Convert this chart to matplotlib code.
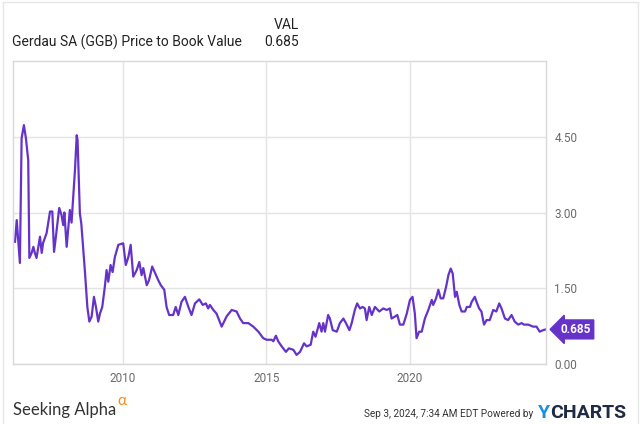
import matplotlib.pyplot as plt
import matplotlib.transforms as mtransforms
from matplotlib.lines import Line2D

# Gerdau SA (GGB) price to book value
years = [2006.25, 2006.31, 2006.42, 2006.48, 2006.56, 2006.63, 2006.71, 2006.75,
         2006.83, 2006.89, 2006.94, 2007.00, 2007.12, 2007.18, 2007.23, 2007.35,
         2007.47, 2007.55, 2007.61, 2007.68, 2007.79, 2007.87, 2007.93, 2007.97,
         2008.05, 2008.16, 2008.22, 2008.28, 2008.34, 2008.40, 2008.43, 2008.49,
         2008.51, 2008.56, 2008.63, 2008.69, 2008.77, 2008.84, 2008.92, 2009.00,
         2009.07, 2009.15, 2009.21, 2009.29, 2009.38, 2009.44, 2009.50, 2009.58,
         2009.65, 2009.73, 2009.85, 2010.02, 2010.11, 2010.20, 2010.28, 2010.37,
         2010.49, 2010.58, 2010.66, 2010.72, 2010.84, 2010.92, 2011.03, 2011.13,
         2011.24, 2011.33, 2011.45, 2011.53, 2011.62, 2011.76, 2011.85, 2011.94,
         2012.05, 2012.17, 2012.29, 2012.40, 2012.52, 2012.67, 2012.79, 2012.90,
         2012.98, 2013.04, 2013.16, 2013.27, 2013.45, 2013.62, 2013.80, 2013.97,
         2014.09, 2014.20, 2014.38, 2014.55, 2014.73, 2014.90, 2015.02, 2015.19,
         2015.25, 2015.34, 2015.42, 2015.54, 2015.69, 2015.79, 2015.95, 2016.06,
         2016.18, 2016.32, 2016.41, 2016.55, 2016.64, 2016.72, 2016.85, 2016.93,
         2016.99, 2017.05, 2017.16, 2017.22, 2017.32, 2017.46, 2017.57, 2017.69,
         2017.78, 2017.90, 2017.98, 2018.09, 2018.17, 2018.27, 2018.36, 2018.44,
         2018.50, 2018.59, 2018.68, 2018.79, 2018.94, 2019.08, 2019.20, 2019.31,
         2019.37, 2019.49, 2019.57, 2019.66, 2019.78, 2019.90, 2020.01, 2020.10,
         2020.18, 2020.24, 2020.33, 2020.42, 2020.53, 2020.65, 2020.77, 2020.82,
         2020.92, 2021.00, 2021.08, 2021.17, 2021.27, 2021.35, 2021.43, 2021.50,
         2021.58, 2021.64, 2021.73, 2021.81, 2021.93, 2021.99, 2022.10, 2022.16,
         2022.27, 2022.33, 2022.42, 2022.50, 2022.59, 2022.68, 2022.79, 2022.91,
         2023.02, 2023.12, 2023.20, 2023.32, 2023.43, 2023.55, 2023.66, 2023.78,
         2023.90, 2023.98, 2024.13, 2024.30, 2024.42, 2024.53, 2024.65, 2024.74]
pb = [2.42, 2.85, 2.00, 4.47, 4.73, 4.47, 4.04, 2.10,
      2.20, 2.32, 2.20, 2.10, 2.52, 2.20, 2.40, 2.59,
      3.02, 3.02, 2.22, 2.55, 3.09, 2.95, 2.75, 3.00,
      2.32, 3.05, 2.80, 3.31, 3.85, 4.53, 4.43, 3.38,
      2.98, 2.78, 2.26, 1.80, 1.13, 0.84, 0.94, 1.33,
      1.13, 0.84, 1.00, 1.13, 1.53, 1.86, 1.63, 1.96,
      1.82, 2.12, 2.36, 2.39, 1.96, 2.12, 2.36, 1.73,
      1.86, 2.02, 1.76, 1.90, 1.56, 1.66, 1.93, 1.80,
      1.66, 1.56, 1.47, 1.13, 0.97, 0.97, 1.13, 0.97,
      1.23, 1.33, 1.13, 0.97, 1.20, 1.28, 1.17, 1.20,
      1.10, 1.17, 1.07, 1.00, 0.74, 0.94, 1.07, 1.04,
      0.90, 0.81, 0.81, 0.74, 0.64, 0.51, 0.48, 0.48,
      0.45, 0.56, 0.45, 0.35, 0.24, 0.31, 0.28, 0.18,
      0.24, 0.41, 0.35, 0.38, 0.64, 0.54, 0.81, 0.64,
      0.81, 0.64, 0.97, 0.90, 0.67, 0.64, 0.81, 0.90,
      0.81, 0.67, 0.81, 1.07, 1.20, 1.10, 1.13, 1.10,
      0.87, 1.13, 0.97, 1.13, 1.04, 1.10, 1.07, 1.10,
      0.90, 0.94, 0.97, 0.78, 0.78, 1.00, 1.27, 1.33,
      1.00, 0.51, 0.64, 0.64, 0.90, 1.07, 1.27, 1.17,
      1.30, 1.47, 1.30, 1.30, 1.53, 1.76, 1.89, 1.79,
      1.33, 1.43, 1.17, 1.04, 1.04, 1.13, 1.13, 1.23,
      1.33, 1.23, 1.10, 1.04, 0.78, 0.87, 0.87, 1.07,
      1.04, 1.20, 1.10, 0.90, 0.87, 0.97, 0.84, 0.78,
      0.81, 0.78, 0.78, 0.74, 0.74, 0.64, 0.67, 0.685]
last_value = 0.685
x_ticks = [2010, 2015, 2020]
y_ticks = [0.0, 1.5, 3.0, 4.5]

purple = '#6533c9'
grid_c = '#e4e4e4'
text_c = '#6a6a6a'

plt.rcParams['font.family'] = ['Roboto', 'DejaVu Sans']

fig = plt.figure(figsize=(6.4, 4.24), dpi=100)
ax = fig.add_axes([13 / 640, 1 - 364 / 424, 533 / 640, 303 / 424])

ax.plot(years, pb, color=purple, lw=1.6, solid_joinstyle='round')

ax.set_xlim(2006.18, 2024.75)
ax.set_ylim(0, 6.0)
ax.set_xticks(x_ticks)
ax.set_xticklabels([str(t) for t in x_ticks])
ax.set_yticks(y_ticks)
ax.set_yticklabels(['%.2f' % t for t in y_ticks])
ax.yaxis.tick_right()
ax.tick_params(axis='both', length=0, labelsize=8.5, colors=text_c)
ax.tick_params(axis='y', pad=6)
ax.tick_params(axis='x', pad=6)
ax.grid(True, color=grid_c, lw=1)
ax.set_axisbelow(True)
for s in ax.spines.values():
    s.set_color('#d8d8d8')
    s.set_linewidth(1)

# last value tag
trans = mtransforms.blended_transform_factory(ax.transAxes, ax.transData)
ax.text(1.027, last_value, '%.3f' % last_value, transform=trans, ha='left', va='center',
        color='white', fontsize=8.5, fontweight='bold', clip_on=False,
        bbox=dict(boxstyle='larrow,pad=0.25', fc=purple, ec=purple))

# header
fig.text(12 / 640, 1 - 42 / 424, 'Gerdau SA (GGB) Price to Book Value',
         fontsize=10, color='#222222', va='center', ha='left')
fig.text(299 / 640, 1 - 25 / 424, 'VAL', fontsize=10, color='#222222',
         va='center', ha='right')
fig.text(299 / 640, 1 - 42 / 424, '%.3f' % last_value, fontsize=10,
         color='#222222', va='center', ha='right')

# outer panel border
for xs, ys in [([3, 3], [0, 422]), ([3, 638], [422, 422]), ([638, 638], [0, 422])]:
    fig.add_artist(Line2D([x / 640 for x in xs], [y / 424 for y in ys],
                          color='#e6e6e6', lw=1))

# footer
fig.text(13 / 640, 1 - 410 / 424, 'Seeking Alpha', fontsize=12, color='#333333',
         va='center', ha='left', family=['Lato', 'DejaVu Sans'])
fig.text(117 / 640, 1 - 401 / 424, '\u03b1', fontsize=11, color='#f58a1f',
         va='center', ha='left', family=['Lato', 'DejaVu Sans'])
fig.text(364 / 640, 1 - 414 / 424, 'Sep 3, 2024, 7:34 AM EDT Powered by',
         fontsize=7.2, color='#333333', va='center', ha='left')
fig.text(538 / 640, 1 - 413 / 424, 'Y', fontsize=14, color='#1a8fe0',
         fontweight='bold', va='center', ha='left')
fig.text(550 / 640, 1 - 413 / 424, 'CHARTS', fontsize=14, color='#1f2a44',
         fontweight='bold', va='center', ha='left')

fig.savefig('out.png', dpi=100)
